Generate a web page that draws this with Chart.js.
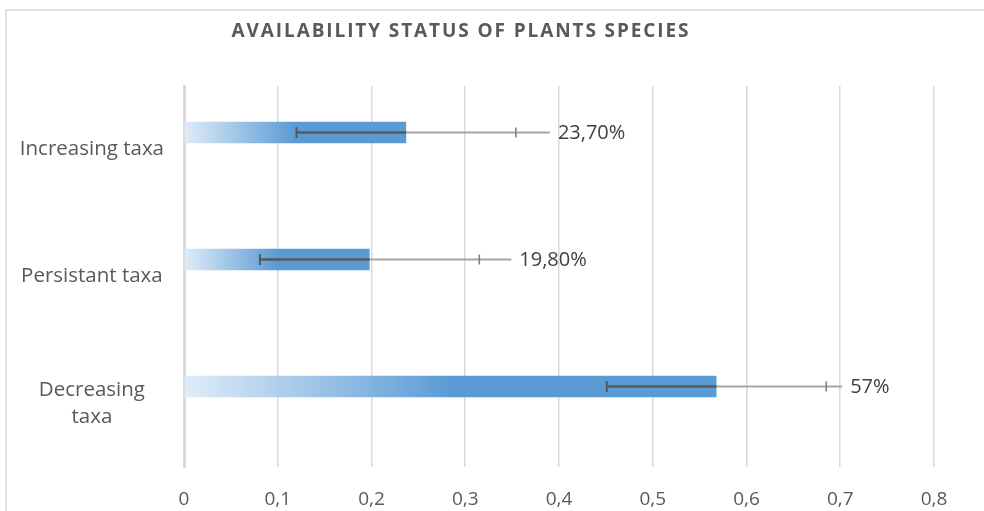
<!DOCTYPE html>
<html><head><meta charset="utf-8">
<script src="https://cdn.jsdelivr.net/npm/chart.js@4/dist/chart.umd.min.js"></script>
<style>html,body{margin:0;padding:0;background:#fff}#wrap{width:984px;height:511px;position:relative}</style>
</head><body><div id="wrap"><canvas id="c" width="984" height="511"></canvas></div>
<script>
const chartTitle = 'AVAILABILITY STATUS OF PLANTS SPECIES';
const categories = ['Increasing taxa', 'Persistant taxa', ['Decreasing', 'taxa']];
const shares = [0.237, 0.198, 0.568];
const errors = [0.117, 0.117, 0.117];
const valueLabels = ['23,70%', '19,80%', '57%'];
const tickLabels = ['0', '0,1', '0,2', '0,3', '0,4', '0,5', '0,6', '0,7', '0,8'];
const emptySeries = [null, null, null];

const BLUE = '#5b9bd5';
function barFill(ctx) {
  const chart = ctx.chart;
  const xs = chart.scales && chart.scales.x;
  if (!chart.chartArea || !xs || ctx.type !== 'data' || ctx.raw == null) return BLUE;
  const x0 = xs.getPixelForValue(0), x1 = xs.getPixelForValue(ctx.raw);
  const g = chart.ctx.createLinearGradient(x0, 0, x1, 0);
  g.addColorStop(0, '#e0ecf8');
  g.addColorStop(0.5, BLUE);
  g.addColorStop(1, BLUE);
  return g;
}

const frame = {
  id: 'frame',
  beforeDraw(chart, args, opts) {
    const c = chart.ctx;
    c.save();
    c.strokeStyle = '#d9d9d9';
    c.lineWidth = 1.5;
    c.strokeRect(6, 10, 1200, 900);
    c.fillStyle = '#595959';
    c.font = 'bold 19px "Open Sans"';
    if ('letterSpacing' in c) c.letterSpacing = '1.9px';
    c.textAlign = 'center';
    c.textBaseline = 'middle';
    c.fillText(opts.text, opts.cx, opts.cy);
    c.restore();
  }
};

const errBars = {
  id: 'errBars',
  afterDatasetsDraw(chart, args, opts) {
    const meta = chart.getDatasetMeta(0);
    const xs = chart.scales.x;
    const c = chart.ctx;
    meta.data.forEach((bar, i) => {
      const y = bar.y;
      const v = shares[i], e = errors[i];
      const xb = xs.getPixelForValue(v);
      const xl = xs.getPixelForValue(v - e);
      const xr = xs.getPixelForValue(v + e);
      const lx = xr + opts.labelGaps[i];
      c.save();
      c.lineCap = 'butt';
      c.strokeStyle = '#a6a6a6'; c.lineWidth = 2;
      c.beginPath(); c.moveTo(xb, y); c.lineTo(lx - 8, y); c.stroke();
      c.strokeStyle = '#595959'; c.lineWidth = 2.5;
      c.beginPath(); c.moveTo(xl, y); c.lineTo(xb, y); c.stroke();
      c.lineWidth = 2;
      c.beginPath(); c.moveTo(xl, y - 5.5); c.lineTo(xl, y + 5.5); c.stroke();
      c.strokeStyle = '#7f7f7f'; c.lineWidth = 1.6;
      c.beginPath(); c.moveTo(xr, y - 5); c.lineTo(xr, y + 5); c.stroke();
      c.fillStyle = '#404040';
      c.font = '20px "Open Sans"';
      c.textBaseline = 'middle';
      c.textAlign = 'left';
      c.fillText(valueLabels[i], lx, y + 1);
      c.restore();
    });
  }
};

new Chart(document.getElementById('c'), {
  type: 'bar',
  data: {
    labels: categories,
    datasets: [
      { data: shares, backgroundColor: barFill, borderWidth: 0 },
      { data: emptySeries, backgroundColor: BLUE, borderWidth: 0 }
    ]
  },
  options: {
    indexAxis: 'y',
    responsive: false,
    animation: false,
    events: [],
    categoryPercentage: 0.535,
    barPercentage: 0.632,
    layout: { padding: { left: 0, right: 50, top: 86, bottom: 0 } },
    plugins: {
      legend: { display: false },
      tooltip: { enabled: false },
      title: { display: false },
      frame: { text: chartTitle, cx: 461, cy: 32 },
      errBars: { labelGaps: [42, 40, 24] }
    },
    scales: {
      x: {
        min: 0, max: 0.8,
        ticks: {
          stepSize: 0.1,
          color: '#595959',
          font: { family: '"Open Sans"', size: 19 },
          padding: 21,
          maxRotation: 0,
          callback: (v, i) => tickLabels[i]
        },
        grid: { color: '#d9d9d9', lineWidth: 1.5, drawTicks: false },
        border: { display: false },
        afterFit: s => { s.height = 44; }
      },
      y: {
        ticks: {
          color: '#595959',
          font: { family: '"Open Sans"', size: 20.5, lineHeight: 1.35 },
          crossAlign: 'center',
          padding: 20
        },
        grid: { display: false, drawTicks: false },
        border: { display: true, color: '#d9d9d9', width: 3 },
        afterFit: s => { s.width = 184; }
      }
    }
  },
  plugins: [frame, errBars]
});
</script>
</body></html>
